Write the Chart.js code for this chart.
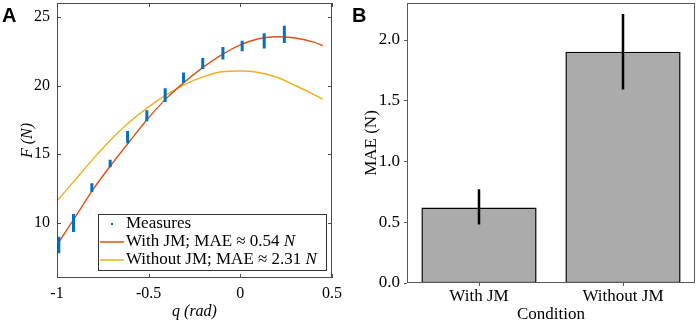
<!DOCTYPE html>
<html>
<head>
<meta charset="utf-8">
<script src="https://cdn.jsdelivr.net/npm/chart.js@4.4.1/dist/chart.umd.min.js"></script>
<style>
    html, body { margin: 0; padding: 0; background: #fff; }
    #wrap { position: relative; width: 699px; height: 323px; overflow: hidden; }
    #boxA { position: absolute; left: 0; top: 0; width: 350px; height: 323px; }
    #boxB { position: absolute; left: 350px; top: 0; width: 349px; height: 323px; }
    .tag { position: absolute; font: bold 20px "Liberation Sans", Arial, sans-serif; line-height: 1; color: #000; }
</style>
</head>
<body>
<div id="wrap">
    <div id="boxA"><canvas id="chartA" width="350" height="323"></canvas></div>
    <div id="boxB"><canvas id="chartB" width="349" height="323"></canvas></div>
    <div class="tag" style="left:2px; top:5px">A</div>
    <div class="tag" style="left:352px; top:5px">B</div>
</div>
<script>
// panel A data
const qTicks = [-1, -0.5, 0, 0.5]
const fTicks = [10, 15, 20, 25]
const curveQ = [-1, -0.9, -0.8, -0.7, -0.6, -0.5, -0.4, -0.3, -0.2, -0.1, 0, 0.1, 0.2, 0.3, 0.4, 0.45]
const withJM = [8.4, 10.45, 12.5, 14.3, 16.0, 17.65, 19.1, 20.3, 21.35, 22.25, 22.95, 23.4, 23.55, 23.45, 23.15, 22.9]
const withoutJM = [11.6, 13.15, 14.7, 16.15, 17.4, 18.45, 19.35, 20.1, 20.65, 21.0, 21.05, 20.95, 20.6, 20.0, 19.35, 19.0]
const measureQ = [-0.99, -0.91, -0.81, -0.71, -0.615, -0.51, -0.41, -0.31, -0.205, -0.095, 0.01, 0.13, 0.24]
const measureLow = [7.8, 9.35, 12.25, 14.05, 15.8, 17.4, 18.8, 20.2, 21.2, 21.9, 22.5, 22.7, 23.1]
const measureHigh = [9.0, 10.65, 12.9, 14.6, 16.7, 18.2, 19.8, 20.95, 22.0, 22.8, 23.25, 23.8, 24.35]

// panel B data
const conditions = ['With JM', 'Without JM']
const maeMean = [0.62, 1.90]
const maeLow = [0.48, 1.59]
const maeHigh = [0.77, 2.21]
const maeTicks = [0, 0.5, 1, 1.5, 2]

const serif = '"Liberation Serif", "DejaVu Serif", serif'
const colors = {
    measures: '#0072BD',
    withJM: '#D95319',
    withoutJM: '#EDB120'
}

// each measurement cluster is a short vertical streak, broken by a null
const measurePoints = []
measureQ.forEach((q, i) => {
    measurePoints.push({x: q, y: measureLow[i]}, {x: q, y: measureHigh[i]}, {x: q, y: null})
})

const frameA = {
    id: 'frameA',
    afterDatasetsDraw(chart) {
        const {ctx, chartArea: a, scales: {x, y}} = chart
        const t = 4
        ctx.save()
        ctx.strokeStyle = '#4a4a4a'
        ctx.lineWidth = 1
        ctx.strokeRect(a.left + 0.5, a.top + 0.5, a.right - a.left - 1, a.bottom - a.top - 1)
        ctx.beginPath()
        qTicks.forEach(v => {
            const px = Math.round(x.getPixelForValue(v)) + 0.5
            ctx.moveTo(px, a.bottom); ctx.lineTo(px, a.bottom - t)
            ctx.moveTo(px, a.top); ctx.lineTo(px, a.top + t)
        })
        fTicks.forEach(v => {
            const py = Math.round(y.getPixelForValue(v)) + 0.5
            ctx.moveTo(a.left, py); ctx.lineTo(a.left + t, py)
            ctx.moveTo(a.right, py); ctx.lineTo(a.right - t, py)
        })
        ctx.stroke()
        ctx.restore()
    }
}

const legendA = {
    id: 'legendA',
    afterDraw(chart) {
        const {ctx, chartArea: a} = chart
        const w = 228, h = 56
        const x0 = a.right - 6 - w
        const y0 = a.bottom - 8 - h
        ctx.save()
        ctx.fillStyle = '#fff'
        ctx.fillRect(x0, y0, w, h)
        ctx.strokeStyle = '#333'
        ctx.lineWidth = 1
        ctx.strokeRect(x0 + 0.5, y0 + 0.5, w, h)
        ctx.textBaseline = 'middle'
        chart.data.datasets.forEach((ds, i) => {
            const cy = y0 + 10 + i * 18
            if (i === 0) {
                ctx.fillStyle = ds.borderColor
                ctx.fillRect(x0 + 13, cy - 1, 2, 2)
            } else {
                ctx.strokeStyle = ds.borderColor
                ctx.lineWidth = 1.5
                ctx.beginPath()
                ctx.moveTo(x0 + 2, cy); ctx.lineTo(x0 + 26, cy)
                ctx.stroke()
            }
            ctx.fillStyle = '#000'
            let text = ds.label
            let tx = x0 + 28
            const italicN = text.endsWith(' N')
            if (italicN) text = text.slice(0, -1)
            ctx.font = `17px ${serif}`
            ctx.fillText(text, tx, cy)
            if (italicN) {
                tx += ctx.measureText(text).width
                ctx.font = `italic 17px ${serif}`
                ctx.fillText('N', tx, cy)
            }
        })
        ctx.restore()
    }
}

new Chart(document.getElementById('chartA'), {
    type: 'scatter',
    data: {
        datasets: [{
            label: 'Measures',
            data: measurePoints,
            showLine: true,
            spanGaps: false,
            borderColor: colors.measures,
            borderWidth: 3,
            pointRadius: 0
        }, {
            label: 'With JM; MAE ≈ 0.54 N',
            data: curveQ.map((q, i) => ({x: q, y: withJM[i]})),
            showLine: true,
            borderColor: colors.withJM,
            borderWidth: 1.4,
            pointRadius: 0,
            cubicInterpolationMode: 'monotone'
        }, {
            label: 'Without JM; MAE ≈ 2.31 N',
            data: curveQ.map((q, i) => ({x: q, y: withoutJM[i]})),
            showLine: true,
            borderColor: colors.withoutJM,
            borderWidth: 1.4,
            pointRadius: 0,
            cubicInterpolationMode: 'monotone'
        }]
    },
    options: {
        responsive: false,
        animation: false,
        devicePixelRatio: 1,
        layout: {padding: {left: 0, right: 18, top: 3, bottom: 0}},
        plugins: {legend: {display: false}, tooltip: {enabled: false}},
        scales: {
            x: {
                type: 'linear',
                min: -1,
                max: 0.5,
                grid: {display: false, drawTicks: false},
                border: {display: false},
                afterBuildTicks: s => { s.ticks = qTicks.map(v => ({value: v})) },
                afterFit: s => { s.height = 45; s.paddingLeft = 0; s.paddingRight = 0 },
                ticks: {
                    color: '#000', padding: 6, maxRotation: 0, autoSkip: false,
                    font: {family: serif, size: 16},
                    callback: v => String(v)
                },
                title: {
                    display: true, text: 'q (rad)', color: '#000',
                    font: {family: serif, size: 16, style: 'italic'},
                    padding: {top: 0, bottom: 2}
                }
            },
            y: {
                min: 6,
                max: 26,
                grid: {display: false, drawTicks: false},
                border: {display: false},
                afterBuildTicks: s => { s.ticks = fTicks.map(v => ({value: v})) },
                afterFit: s => { s.width = 57; s.paddingTop = 0; s.paddingBottom = 0 },
                ticks: {
                    color: '#000', padding: 7, autoSkip: false,
                    font: {family: serif, size: 16}
                },
                title: {
                    display: true, text: 'F (N)', color: '#000',
                    font: {family: serif, size: 16, style: 'italic'},
                    padding: {top: 18, bottom: 0}
                }
            }
        }
    },
    plugins: [frameA, legendA]
})

const frameB = {
    id: 'frameB',
    afterDatasetsDraw(chart) {
        const {ctx, chartArea: a, scales: {x, y}} = chart
        ctx.save()
        // error bars
        const meta = chart.getDatasetMeta(0)
        ctx.strokeStyle = '#000'
        ctx.lineWidth = 2.5
        ctx.beginPath()
        meta.data.forEach((bar, i) => {
            ctx.moveTo(bar.x, y.getPixelForValue(maeLow[i]))
            ctx.lineTo(bar.x, y.getPixelForValue(maeHigh[i]))
        })
        ctx.stroke()
        // box and outward ticks
        ctx.strokeStyle = '#5a5a5a'
        ctx.lineWidth = 1
        ctx.strokeRect(a.left + 0.5, a.top + 0.5, a.right - a.left - 1, a.bottom - a.top - 1)
        ctx.beginPath()
        maeTicks.forEach(v => {
            const py = Math.round(y.getPixelForValue(v)) + 0.5
            ctx.moveTo(a.left, py); ctx.lineTo(a.left - 3, py)
        })
        conditions.forEach((c, i) => {
            const px = Math.round(x.getPixelForValue(i)) + 0.5
            ctx.moveTo(px, a.bottom); ctx.lineTo(px, a.bottom + 3)
        })
        ctx.stroke()
        ctx.restore()
    }
}

new Chart(document.getElementById('chartB'), {
    type: 'bar',
    data: {
        labels: conditions,
        datasets: [{
            label: 'MAE',
            data: maeMean,
            backgroundColor: '#ababab',
            borderColor: '#000',
            borderWidth: 1.5,
            borderSkipped: false,
            barPercentage: 0.8,
            categoryPercentage: 1.0
        }]
    },
    options: {
        responsive: false,
        animation: false,
        devicePixelRatio: 1,
        layout: {padding: {left: 0, right: 4, top: 3, bottom: 0}},
        plugins: {legend: {display: false}, tooltip: {enabled: false}},
        scales: {
            x: {
                grid: {display: false, drawTicks: false},
                border: {display: false},
                afterFit: s => { s.height = 40; s.paddingLeft = 0; s.paddingRight = 0 },
                ticks: {
                    color: '#000', padding: 3, maxRotation: 0,
                    font: {family: serif, size: 17}
                },
                title: {
                    display: true, text: 'Condition', color: '#000',
                    font: {family: serif, size: 17, lineHeight: 1},
                    padding: {top: 0, bottom: 0}
                }
            },
            y: {
                min: 0,
                max: 2.3,
                grid: {display: false, drawTicks: false},
                border: {display: false},
                afterBuildTicks: s => { s.ticks = maeTicks.map(v => ({value: v})) },
                afterFit: s => { s.width = 57; s.paddingTop = 0; s.paddingBottom = 0 },
                ticks: {
                    color: '#000', padding: 7, autoSkip: false,
                    font: {family: serif, size: 17},
                    callback: v => v.toFixed(1)
                },
                title: {
                    display: true, text: 'MAE (N)', color: '#000',
                    font: {family: serif, size: 17},
                    padding: {top: 11, bottom: 0}
                }
            }
        }
    },
    plugins: [frameB]
})
</script>
</body>
</html>
